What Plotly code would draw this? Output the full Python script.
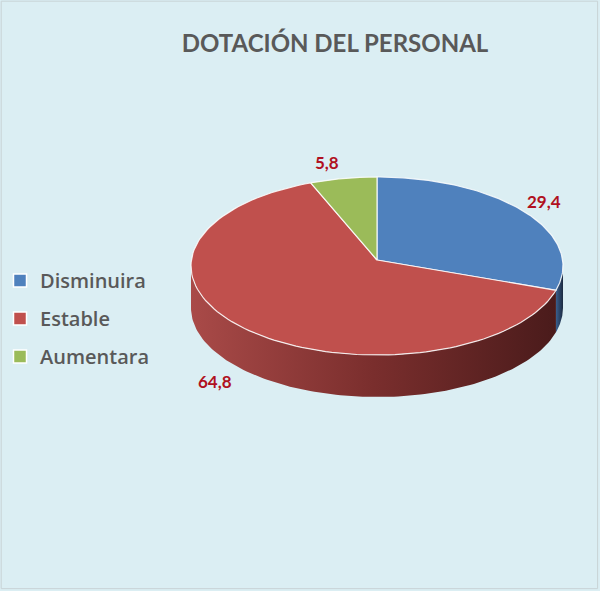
import numpy as np
import plotly.graph_objects as go

# Survey result: expected change in staffing (percent of respondents)
categories = ["Disminuira", "Estable", "Aumentara"]
values = [29.4, 64.8, 5.8]
colors = ["#4F81BD", "#C0504D", "#9BBB59"]
wall_scales = [
    [[0, "#3A5F8E"], [1, "#1C2A40"]],
    [[0, "#A94A48"], [0.5, "#7A2E2D"], [1, "#4A1B1B"]],
    [[0, "#7A9444"], [1, "#4D5E2B"]],
]
title_text = "DOTACIÓN DEL PERSONAL"

W, H = 600, 591
# Pie geometry in pixel-like data units (y axis reversed)
cx, cy, rx, ry = 377, 266, 186, 89
depth = 42
apex = (cx, cy - 6)

fig = go.Figure()

total = sum(values)
bounds = [90.0]
for v in values:
    bounds.append(bounds[-1] - 360.0 * v / total)


def ellipse_pts(t0, t1, n=120, dy=0.0):
    t = np.radians(np.linspace(t0, t1, n))
    return cx + rx * np.cos(t), cy - ry * np.sin(t) + dy


# Side walls: only the front half (angles between -180 and 0) is visible
for i in range(len(values)):
    a0, a1 = bounds[i], bounds[i + 1]  # a0 > a1 (clockwise)
    for shift in (0, -360, 360):
        hi, lo = a0 + shift, a1 + shift
        f_hi, f_lo = min(hi, 0.0), max(lo, -180.0)
        if f_hi > f_lo:
            xt, yt = ellipse_pts(f_lo, f_hi)
            xb, yb = ellipse_pts(f_hi, f_lo, dy=depth)
            fig.add_trace(go.Scatter(
                x=np.concatenate([xt, xb, xt[:1]]),
                y=np.concatenate([yt, yb, yt[:1]]),
                mode="lines", fill="toself",
                line=dict(width=0, color=colors[i]),
                fillgradient=dict(type="horizontal", colorscale=wall_scales[i]),
                hoverinfo="skip", showlegend=False,
            ))

# Top face slices
for i in range(len(values)):
    xs, ys = ellipse_pts(bounds[i], bounds[i + 1])
    fig.add_trace(go.Scatter(
        x=np.concatenate([[apex[0]], xs, [apex[0]]]),
        y=np.concatenate([[apex[1]], ys, [apex[1]]]),
        mode="lines", fill="toself", fillcolor=colors[i],
        line=dict(width=1.2, color="rgba(255,255,255,0.85)"),
        name=categories[i], hoverinfo="name", showlegend=False,
    ))

# Value labels, placed outside each slice at its mid angle
label_nudge = [(1, -4), (-21, 0), (-12, -5)]
for i, v in enumerate(values):
    mid = np.radians((bounds[i] + bounds[i + 1]) / 2)
    lx = cx + 1.12 * rx * np.cos(mid)
    ly = cy - 1.12 * ry * np.sin(mid)
    if np.sin(mid) < 0:
        ly += depth
    lx += label_nudge[i][0]
    ly += label_nudge[i][1]
    fig.add_annotation(
        x=lx, y=ly, xanchor="center", yanchor="middle",
        text=f"{v:.1f}".replace(".", ","), showarrow=False,
        font=dict(family="Lato", size=17, color="#B01020", weight="bold"),
    )

# Legend entries
for i, name in enumerate(categories):
    fig.add_trace(go.Scatter(
        x=[None], y=[None], mode="markers", name=name,
        legendgroup=name,
        marker=dict(symbol="square", size=13, color=colors[i],
                    line=dict(color="white", width=1.5)),
    ))

fig.update_layout(
    width=W, height=H,
    margin=dict(l=0, r=0, t=0, b=0),
    paper_bgcolor="#DBEEF3", plot_bgcolor="#DBEEF3",
    xaxis=dict(range=[0, W], visible=False, fixedrange=True),
    yaxis=dict(range=[H, 0], visible=False, fixedrange=True),
    title=dict(text=title_text, x=335 / W, xanchor="center",
               y=1 - 44 / H, yanchor="middle",
               font=dict(family="Lato", size=24, color="#595959", weight="bold")),
    showlegend=True,
    legend=dict(x=0.0, xanchor="left", y=1 - 261 / H, yanchor="top",
                font=dict(family="Open Sans", size=20, color="#595959", weight=600),
                bgcolor="rgba(0,0,0,0)", tracegroupgap=9,
                itemclick=False, itemdoubleclick=False),
    shapes=[dict(type="rect", xref="paper", yref="paper", x0=0.002, y0=0.004,
                 x1=0.996, y1=0.998, line=dict(color="#C8D3D6", width=1))],
)

fig.write_html("out.html")
